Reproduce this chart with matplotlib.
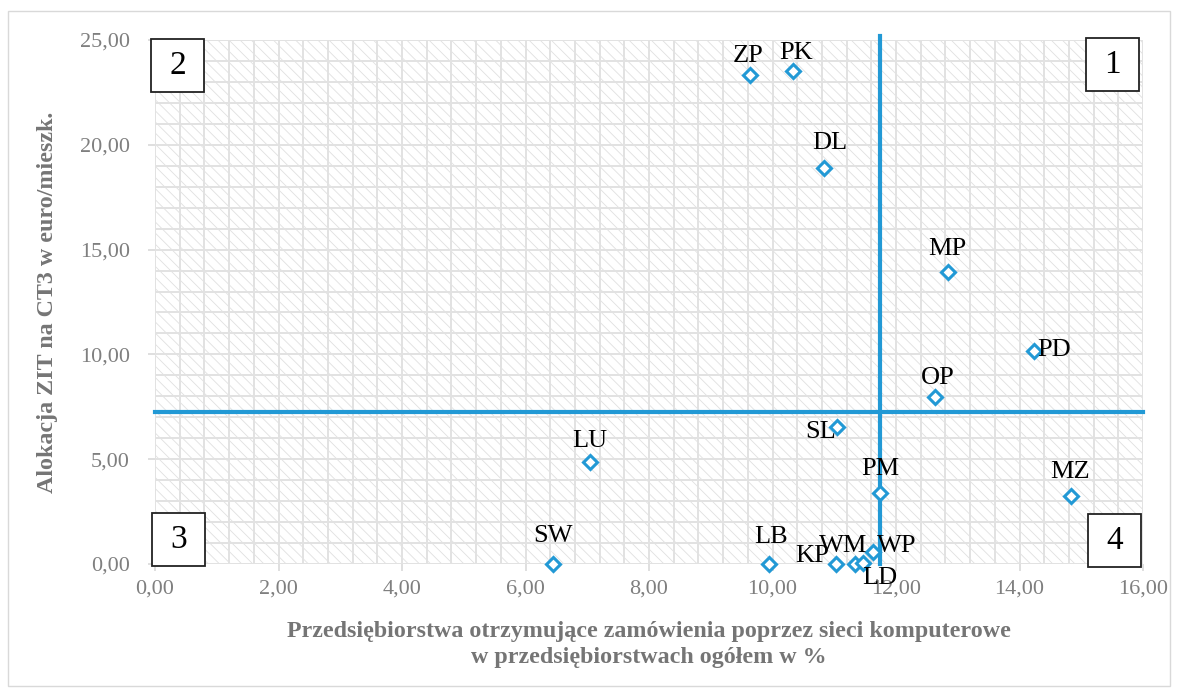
import matplotlib
matplotlib.use("Agg")
import matplotlib.pyplot as plt
from matplotlib.patches import Rectangle
from matplotlib.ticker import MultipleLocator, FuncFormatter

# regions: x = % of enterprises receiving orders via computer networks, y = ZIT allocation on CT3
regions = ['ZP', 'PK', 'DL', 'MP', 'PD', 'OP', 'SL', 'LU', 'PM', 'MZ', 'SW', 'LB', 'KP', 'WM', 'LD', 'WP']
x_vals = [9.64, 10.33, 10.83, 12.84, 14.23, 12.63, 11.04, 7.04, 11.74, 14.83, 6.45, 9.94, 11.03, 11.34, 11.47, 11.63]
y_vals = [23.33, 23.52, 18.89, 13.93, 10.16, 7.97, 6.54, 4.87, 3.39, 3.24, 0.0, 0.0, 0.0, 0.0, 0.06, 0.59]
x_mean = 11.74
y_mean = 7.27
quadrants = ['2', '1', '3', '4']

# label offsets in pixels (dx, dy) relative to the marker
offsets = [(-2, 19), (3, 18), (6, 25), (-1, 23), (20, 1), (3, 19), (-16, -5), (0, 21),
           (0, 24), (-1, 24), (0, 28), (2, 27), (-24, 8), (-12, 18), (17, -15), (24, 6)]

blue = '#2299d5'
grey_txt = '#7f7f7f'
W, H = 1181, 695

plt.rcParams['font.family'] = ['Liberation Serif', 'DejaVu Serif']
plt.rcParams['hatch.color'] = '#e0e0e0'
plt.rcParams['hatch.linewidth'] = 0.6

fig = plt.figure(figsize=(W / 100, H / 100), dpi=100)
ax = fig.add_axes([155 / W, 1 - 564 / H, (1143 - 155) / W, (564 - 40) / H])

# hatched background
ax.add_patch(Rectangle((0, 0), 1, 1, transform=ax.transAxes, facecolor='white',
                       edgecolor='#e0e0e0', linewidth=0, hatch='\\\\\\', zorder=0.1))

ax.set_xlim(0, 16)
ax.set_ylim(0, 25)
ax.xaxis.set_major_locator(MultipleLocator(2))
ax.xaxis.set_minor_locator(MultipleLocator(0.4))
ax.yaxis.set_major_locator(MultipleLocator(5))
ax.yaxis.set_minor_locator(MultipleLocator(1))
fmt = FuncFormatter(lambda v, p: ('%.2f' % v).replace('.', ','))
ax.xaxis.set_major_formatter(fmt)
ax.yaxis.set_major_formatter(fmt)
ax.set_axisbelow(True)
ax.grid(which='both', color='#e2e2e2', linewidth=1.4)
ax.tick_params(which='major', length=5, color='#d9d9d9', width=1.2,
               labelsize=16, labelcolor=grey_txt)
ax.tick_params(axis='x', pad=6)
ax.tick_params(axis='y', pad=13)
ax.tick_params(which='minor', length=0)
for s in ax.spines.values():
    s.set_visible(False)

# mean lines
ax.plot([0, 16], [y_mean, y_mean], color=blue, lw=3, clip_on=False, zorder=3)
ax.plot([x_mean, x_mean], [0, 25.2], color=blue, lw=3, clip_on=False, zorder=3)

ax.plot(x_vals, y_vals, linestyle='none', marker='D', markersize=7.5,
        markerfacecolor='white', markeredgecolor=blue, markeredgewidth=2.2,
        clip_on=False, zorder=4)

for name, xv, yv, (dx, dy) in zip(regions, x_vals, y_vals, offsets):
    ax.annotate(name, (xv, yv), xytext=(dx, dy), textcoords='offset pixels',
                ha='center', va='center', fontsize=19, color='black', zorder=5,
                annotation_clip=False)

ax.set_xlabel('Przedsiębiorstwa otrzymujące zamówienia poprzez sieci komputerowe\nw przedsiębiorstwach ogółem w %',
              fontsize=17.3, fontweight='bold', color='#757575', labelpad=16, linespacing=1.35)
ax.set_ylabel('Alokacja ZIT na CT3 w euro/mieszk.', fontsize=17.3, fontweight='bold',
              color='#757575', labelpad=16)

# quadrant boxes (pixel positions of top-left corners)
box_pos = [(151, 39), (1086, 38), (152, 513), (1088, 514)]
for q, (bx, by) in zip(quadrants, box_pos):
    fig.add_artist(Rectangle((bx / W, 1 - (by + 53) / H), 53 / W, 53 / H,
                             transform=fig.transFigure, facecolor='white',
                             edgecolor='#222222', linewidth=1.3, zorder=6))
    fig.text((bx + 26.5) / W, 1 - (by + 26.5) / H, q, ha='center', va='center',
             fontsize=24, color='black', zorder=7)

# outer chart border
fig.add_artist(Rectangle((8 / W, 1 - 686 / H), (1170 - 8) / W, (686 - 11) / H,
                         transform=fig.transFigure, fill=False,
                         edgecolor='#d9d9d9', linewidth=1))

fig.savefig('out.png', dpi=100)
